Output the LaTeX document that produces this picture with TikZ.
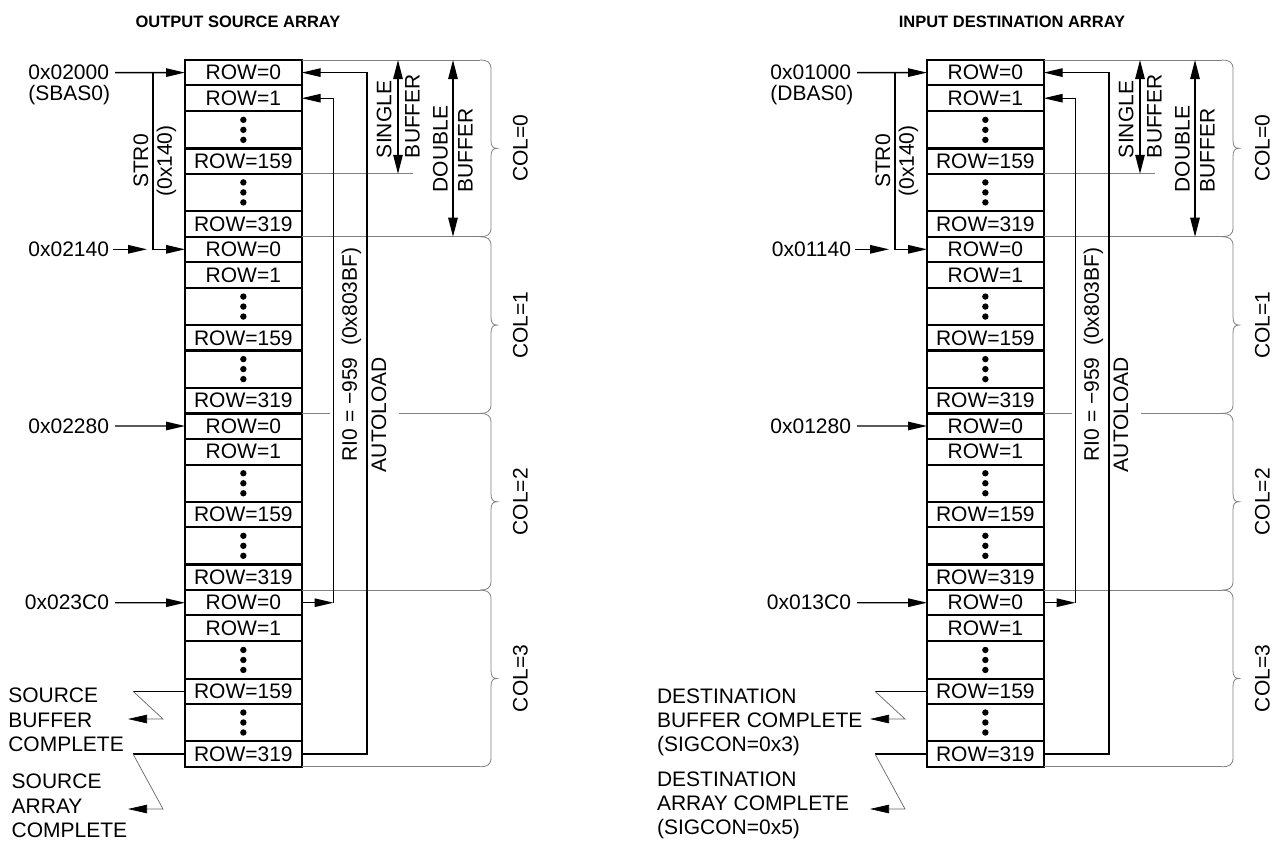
\documentclass[tikz,border=0pt]{standalone}
\usepackage{fontspec}
\setmainfont{Liberation Sans}
\usetikzlibrary{arrows.meta,calc}

\newcommand\memarray[6]{%
  \coordinate (#1s) at (153,0);
  \coordinate (#1t) at (147,0);
  \coordinate (#1i) at (333.5,0);
  \coordinate (#1o) at (367,0);
  \coordinate (#1b) at (480,0);
  \coordinate (#1sg) at (398,0);
  \coordinate (#1db) at (453,0);
  \coordinate (#1k) at (133,0);
  \coordinate (#1q1) at (163,719);
  \coordinate (#1r1) at (128,719);
  \coordinate (#1q2) at (163,809);
  \coordinate (#1r2) at (128,809);
  % braces, column labels and cells
  \foreach \g in {0,1,2,3}{%
    \pgfmathsetmacro\T{60+176.7*\g}%
    \pgfmathsetmacro\B{\T+176.7}%
    \pgfmathsetmacro\M{\T+88.35}%
    \draw[grayline] (480,\T) .. controls (487,\T) and (491,\T+2) .. (491,\T+9) -- (491,\M-8)
      .. controls (491,\M-2) and (493,\M) .. (497,\M) .. controls (493,\M) and (491,\M+2) .. (491,\M+8)
      -- (491,\B-9) .. controls (491,\B-2) and (487,\B) .. (480,\B);
    \node[lbl, rotate=90] (#1col\g) at (520.5,\M) {COL=\g};
    \node[cell, minimum height=25.2pt] (#1\g a) at (185,\T) {ROW=0};
    \node[cell, minimum height=26pt] (#1\g b) at (185,\T+25.2) {ROW=1};
    \node[cell, minimum height=37.3pt] (#1\g c) at (185,\T+51.2) {};
    \node[cell, minimum height=25.3pt] (#1\g d) at (185,\T+88.5) {ROW=159};
    \node[cell, minimum height=37.2pt] (#1\g e) at (185,\T+113.8) {};
    \node[cell, minimum height=25.7pt] (#1\g f) at (185,\T+151) {ROW=319};
    \foreach \c in {c,e}{\foreach \k in {-10,0,10}{\fill ([yshift=\k pt]#1\g\c.center) circle (3.2pt);}}
  }
  % grey guide lines
  \foreach \g in {0,1,3}{\draw[grayline] (#1\g a.north east) -- (#1b |- #1\g a.north east);}
  \draw[grayline] (#13f.south east) -- (#1b |- #13f.south east);
  \draw[grayline] (#12a.north east) -- ++(28,0);
  \draw[grayline] (#1b |- #12a.north east) -- ++(-81,0);
  \draw[grayline] (#10d.south east) -- ++(111,0);
  % address labels
  \node[lbl, anchor=east] (#1a0) at (109,72.6) {#2};
  \node[lbl, anchor=base west] (#1n0) at ([yshift=-21pt]#1a0.base west) {#3};
  \node[lbl, anchor=east] (#1a1) at (109,249.3) {#4};
  \node[lbl, anchor=east] (#1a2) at (109,426) {#5};
  \node[lbl, anchor=east] (#1a3) at (109,602.7) {#6};
  \draw[conn,tip] ([xshift=6pt]#1a0.east) -- (#10a.west);
  \draw[conn,tip] (#1s |- #10a.west) -- (#1s |- #11a.west) -- (#11a.west);
  \draw[conn,tip] ([xshift=4pt]#1a1.east) -- (#1t |- #1a1.east);
  \draw[conn,tip] ([xshift=6pt]#1a2.east) -- (#12a.west);
  \draw[conn,tip] ([xshift=6pt]#1a3.east) -- (#13a.west);
  \node[lbl, rotate=90] (#1str) at (141,161) {STR0};
  \node[lbl, rotate=90] (#1strv) at (166.5,161) {(0x140)};
  % autoload loops
  \draw[conn,tip] (#13f.east) -- (#1o |- #13f.east) -- (#1o |- #10a.east) -- (#10a.east);
  \draw[conn,tip] (#13a.east) -- (#1i |- #13a.east);
  \draw[conn,tip] (#1i |- #13a.east) -- (#1i |- #10b.east) -- (#10b.east);
  \node[lbl, rotate=90] (#1ri) at (351.5,354.5) {RI0 = −959\ \ (0x803BF)};
  \node[lbl, rotate=90] (#1al) at (379,414.5) {AUTOLOAD};
  % buffer arrows
  \draw[line width=1.2pt, dtip] (#1sg |- #10a.north east) -- (#1sg |- #10d.south east);
  \draw[line width=1.2pt, dtip] (#1db |- #10a.north east) -- (#1db |- #11a.north east);
  \node[lbl, rotate=90, align=left, font=\fontsize{21}{28.3}\selectfont] (#1sbl) at (398.3,116) {SINGLE\\BUFFER};
  \node[lbl, rotate=90, align=left, font=\fontsize{21}{25}\selectfont] (#1dbl) at (453,149) {DOUBLE\\BUFFER};
  % completion signals
  \draw[conn] (#13d.west) -- (#1k |- #13d.west);
  \draw[thinc] (#1k |- #13d.west) -- (#1q1) -- (#1r1);
  \draw[conn] (#13f.west) -- (#1k |- #13f.west);
  \draw[thinc] (#1k |- #13f.west) -- (#1q2) -- (#1r2);
}

\begin{document}
\begin{tikzpicture}[x=1pt,y=-1pt,
  every node/.style={font=\fontsize{21}{24.5}\selectfont},
  cell/.style={draw, line width=2.2pt, minimum width=116.7pt, inner sep=0pt, outer sep=0pt, anchor=north west},
  lbl/.style={inner sep=0pt, outer sep=0pt},
  conn/.style={line width=1.3pt},
  tip/.style={-{Triangle[length=19pt,width=8.5pt]}},
  dtip/.style={{Triangle[length=19pt,width=9.5pt]}-{Triangle[length=19pt,width=9.5pt]}},
  grayline/.style={line width=0.8pt, draw=black!50},
  thinc/.style={line width=0.7pt, draw=black!60, -{Triangle[length=19pt,width=8.5pt,color=black]}},
  ttl/.style={font=\fontsize{16.5}{19}\selectfont\bfseries},
]
\useasboundingbox (0,0) rectangle (1281,841);

\node[ttl] (lt) at (238,22) {OUTPUT SOURCE ARRAY};
\node[ttl] (rt) at (1012,22) {INPUT DESTINATION ARRAY};

\memarray{L}{0x02000}{(SBAS0)}{0x02140}{0x02280}{0x023C0}
\begin{scope}[xshift=742pt]
\memarray{R}{0x01000}{(DBAS0)}{0x01140}{0x01280}{0x013C0}
\end{scope}

\node[lbl, align=left, anchor=north west] (lsb) at (8.3,688) {SOURCE\\BUFFER\\COMPLETE};
\node[lbl, align=left, anchor=north west] (lsa) at (11.7,774) {SOURCE\\ARRAY\\COMPLETE};
\node[lbl, align=left, anchor=north west, font=\fontsize{21}{24}\selectfont] (rsb) at (657,689) {DESTINATION\\BUFFER COMPLETE\\(SIGCON=0x3)};
\node[lbl, align=left, anchor=north west, font=\fontsize{21}{24}\selectfont] (rsa) at (657,772) {DESTINATION\\ARRAY COMPLETE\\(SIGCON=0x5)};
\end{tikzpicture}
\end{document}
